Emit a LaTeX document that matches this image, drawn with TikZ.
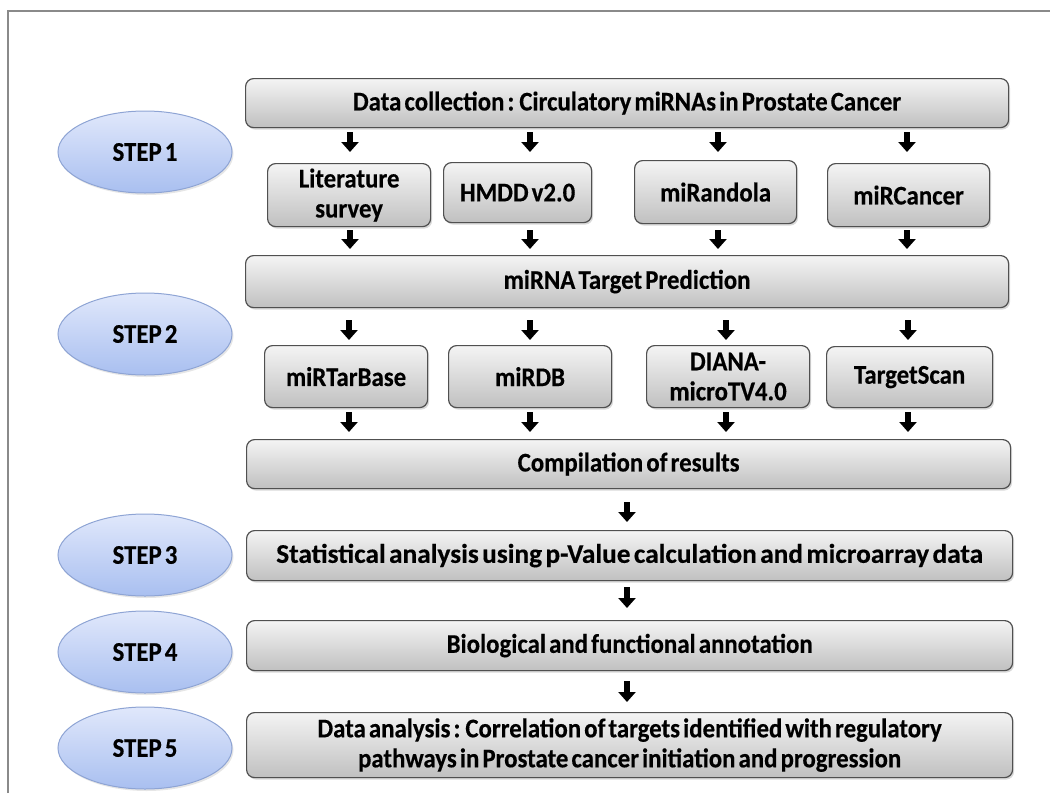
\documentclass[tikz,border=0pt]{standalone}
\usepackage{fontspec}
\setmainfont{Carlito}[FakeStretch=0.92, WordSpace=0.55, BoldFeatures={FakeBold=0.35}]
\usetikzlibrary{shadows,arrows.meta,shapes.geometric}
\definecolor{boxtop}{HTML}{F4F4F4}
\definecolor{boxbot}{HTML}{C0C0C0}
\definecolor{boxline}{HTML}{505050}
\definecolor{eltop}{HTML}{E0E8FB}
\definecolor{elbot}{HTML}{A9BFF0}
\definecolor{elline}{HTML}{8EA4D4}
\definecolor{framec}{HTML}{8A8A8A}
\begin{document}
\begin{tikzpicture}[x=1pt,y=-1pt,
  box/.style={draw=boxline, line width=1.2pt, rounded corners=8pt,
    top color=boxtop, bottom color=boxbot,
    drop shadow={opacity=0.3, shadow xshift=1.5pt, shadow yshift=-2pt},
    font=\fontsize{27}{30}\selectfont\bfseries, align=center, inner sep=0pt,
    anchor=north west},
  stepel/.style={ellipse, draw=elline, line width=1pt,
    top color=eltop, bottom color=elbot,
    drop shadow={opacity=0.2, shadow xshift=1.5pt, shadow yshift=-2pt},
    minimum width=174pt, minimum height=82pt, inner sep=0pt,
    font=\fontsize{27}{30}\selectfont\bfseries},
  blk/.style={line width=6pt, -{Triangle[length=10pt,width=17pt]}}
]
\useasboundingbox (0,0) rectangle (1050,793);
\draw[framec, line width=1.5pt] (8,793) -- (8,11) -- (1050,11);

% step ellipses
\node[stepel] (s1) at (145,152) {STEP 1};
\node[stepel] (s2) at (145,334) {STEP 2};
\node[stepel] (s3) at (145,555) {STEP 3};
\node[stepel] (s4) at (145,652) {STEP 4};
\node[stepel] (s5) at (145,748) {STEP 5};

% boxes
\node[box, minimum width=763pt, minimum height=49pt] (collect) at (245,78) {Data collection : Circulatory miRNAs in Prostate Cancer};
\node[box, minimum width=163pt, minimum height=63pt] (lit) at (267,163) {Literature\\survey};
\node[box, minimum width=148pt, minimum height=60pt] (hmdd) at (443,162) {HMDD v2.0};
\node[box, minimum width=162pt, minimum height=63pt] (mirandola) at (634,160) {miRandola};
\node[box, minimum width=162pt, minimum height=63pt] (mircancer) at (827,163) {miRCancer};
\node[box, minimum width=763pt, minimum height=52pt] (pred) at (245,255) {miRNA Target Prediction};
\node[box, minimum width=163pt, minimum height=62pt] (tarbase) at (264,345) {miRTarBase};
\node[box, minimum width=163pt, minimum height=62pt] (mirdb) at (448,345) {miRDB};
\node[box, minimum width=163pt, minimum height=62pt] (diana) at (646,345) {DIANA-\\microTV4.0};
\node[box, minimum width=166pt, minimum height=61pt] (tscan) at (826,346) {TargetScan};
\node[box, minimum width=764pt, minimum height=49pt] (comp) at (246,439) {Compilation of results};
\node[box, minimum width=766pt, minimum height=50pt] (stat) at (246,530) {\scalebox{1.1}[1]{Statistical analysis using p-Value calculation and microarray data}};
\node[box, minimum width=766pt, minimum height=50pt] (bio) at (246,620) {Biological and functional annotation};
\node[box, minimum width=766pt, minimum height=65pt] (anal) at (246,712) {Data analysis : Correlation of targets identified with regulatory\\pathways in Prostate cancer initiation and progression};

% arrow coordinates
\foreach \n/\x in {a/350,b/530,c/718,d/907}{
  \coordinate (r1\n s) at (\x,132); \coordinate (r1\n e) at (\x,152);
  \coordinate (r2\n s) at (\x,230); \coordinate (r2\n e) at (\x,249);
}
\foreach \n/\x in {a/349,b/530,c/726,d/908}{
  \coordinate (r3\n s) at (\x,320); \coordinate (r3\n e) at (\x,340);
  \coordinate (r4\n s) at (\x,412); \coordinate (r4\n e) at (\x,432);
}
\coordinate (r5s) at (627,502); \coordinate (r5e) at (627,522);
\coordinate (r6s) at (627,587); \coordinate (r6e) at (627,608);
\coordinate (r7s) at (627,681); \coordinate (r7e) at (627,702);

\foreach \r in {r1,r2,r3,r4}{
  \foreach \n in {a,b,c,d}{
    \draw[blk] (\r\n s) -- (\r\n e);
  }
}
\draw[blk] (r5s) -- (r5e);
\draw[blk] (r6s) -- (r6e);
\draw[blk] (r7s) -- (r7e);
\end{tikzpicture}
\end{document}
